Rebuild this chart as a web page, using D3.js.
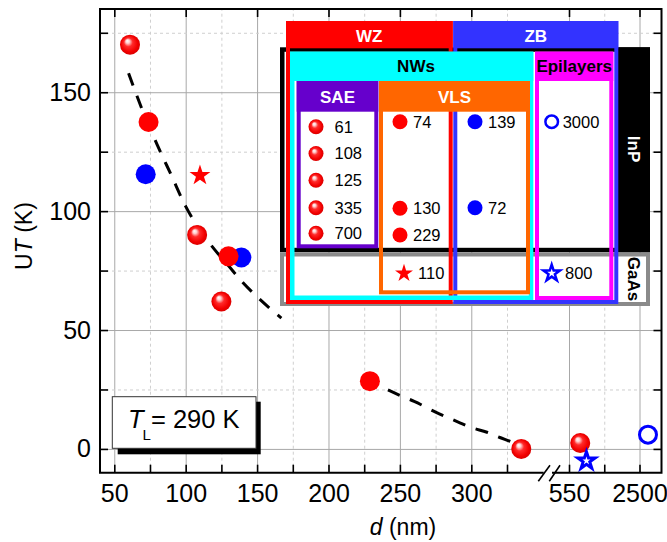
<!DOCTYPE html>
<html><head><meta charset="utf-8">
<script src="https://cdn.jsdelivr.net/npm/d3@7"></script>
<style>
body{margin:0;background:#fff}
svg{display:block;font-family:"Liberation Sans",Arial,sans-serif}
</style>
</head><body>
<svg id="c" width="667" height="542"></svg>
<script>
// ---------------- data ----------------
const saeD = [61, 108, 125, 335, 700];          // WZ InP NWs, SAE
const saeUT = [170, 90, 62, 0, 2.5];
const vlsWZD = [74, 130, 229];                   // WZ InP NWs, VLS
const vlsWZUT = [137.5, 81, 28.5];
const vlsZBD = [139, 72];                        // ZB InP NWs, VLS
const vlsZBUT = [80.5, 115.5];
const epiInPD = [3000];                          // ZB InP epilayer
const epiInPUT = [6];
const vlsGaAsD = [110];                          // WZ GaAs NW, VLS
const vlsGaAsUT = [115];
const epiGaAsD = [800];                          // ZB GaAs epilayer
const epiGaAsUT = [-5];
// dashed guide line (two visible pieces)
const fitD1 = [60, 70, 80, 90, 100, 110, 120, 130, 140, 150, 167];
const fitUT1 = [158, 142, 128, 115, 102, 92, 84, 77, 70, 64, 55];
const fitD2 = [229, 250, 260, 275, 292, 300, 311, 320, 329, 335];
const fitUT2 = [28.5, 22.5, 20, 15.5, 11, 9, 7, 4.8, 2.7, 1];
const xTicks1 = [50, 100, 150, 200, 250, 300];
const xMinor1 = [75, 125, 175, 225, 275, 325];
const xTicks2 = [550, 2500];
const yTicks = [0, 50, 100, 150];
const yMinor = [25, 75, 125, 175];

// ---------------- layout ----------------
const PL = 100, PR = 661.5, PT = 9, PB = 472.7, BRK1 = 542.7, BRK2 = 553;
const x1 = d3.scaleLinear().domain([40, 350]).range([PL, BRK1]);
const x2 = d3.scaleLog().domain([390, 4010]).range([BRK2, PR]);
const X = d => d <= 350 ? x1(d) : x2(d);
const y = d3.scaleLinear().domain([-10, 185]).range([PB, PT]);
const xMinor2 = [Math.sqrt(xTicks2[0] * xTicks2[1])];

const svg = d3.select("#c");
const defs = svg.append("defs");
const grad = defs.append("radialGradient").attr("id", "sph")
  .attr("cx", "50%").attr("cy", "50%").attr("r", "52%").attr("fx", "36%").attr("fy", "30%");
[[0, "#ffffff"], [0.18, "#ffd0d0"], [0.42, "#ff2a2a"], [0.78, "#f20000"], [1, "#d60000"]]
  .forEach(([o, c]) => grad.append("stop").attr("offset", o).attr("stop-color", c));

const zip = (a, b) => a.map((v, i) => [v, b[i]]);

// ---------------- grid ----------------
function vgrid(scale, vals, major) {
  svg.append("g").attr("transform", `translate(0,${PB})`)
    .call(d3.axisBottom(scale).tickValues(vals).tickSize(-(PB - PT)).tickFormat(""))
    .call(g => g.select(".domain").remove())
    .selectAll("line")
    .attr("stroke", major ? "#a8a8a8" : "#cfcfcf")
    .attr("stroke-width", 1)
    .attr("stroke-dasharray", major ? null : "3,3");
}
vgrid(x1, xTicks1, true); vgrid(x1, xMinor1, false);
vgrid(x2, xTicks2, true); vgrid(x2, xMinor2, false);
function hgrid(vals, major) {
  svg.append("g").attr("transform", `translate(${PL},0)`)
    .call(d3.axisLeft(y).tickValues(vals).tickSize(-(PR - PL)).tickFormat(""))
    .call(g => g.select(".domain").remove())
    .selectAll("line")
    .attr("stroke", major ? "#a8a8a8" : "#cfcfcf")
    .attr("stroke-width", 1)
    .attr("stroke-dasharray", major ? null : "3,3");
}
hgrid(yTicks, true); hgrid(yMinor, false);

// ---------------- fit line ----------------
const fitLine = d3.line().x(d => X(d[0])).y(d => y(d[1])).curve(d3.curveMonotoneX);
[[fitD1, fitUT1, 0], [fitD2, fitUT2, 4]].forEach(([D, U, off]) => {
  svg.append("path")
    .datum(zip(D, U))
    .attr("d", fitLine)
    .attr("fill", "none").attr("stroke", "#000").attr("stroke-width", 3)
    .attr("stroke-dasharray", "13,11").attr("stroke-dashoffset", off);
});

// ---------------- markers ----------------
const star = s => d3.symbol().type(d3.symbolStar).size(s)();
function circles(D, U, r, fill, stroke, sw) {
  svg.append("g").selectAll("circle").data(zip(D, U)).join("circle")
    .attr("cx", d => X(d[0])).attr("cy", d => y(d[1])).attr("r", r)
    .attr("fill", fill).attr("stroke", stroke || "none").attr("stroke-width", sw || 0);
}
circles(vlsZBD, vlsZBUT, 10, "#0000ff");
circles(vlsWZD, vlsWZUT, 10, "#ff0000");
circles(saeD, saeUT, 10, "url(#sph)");
circles(epiInPD, epiInPUT, 8.5, "none", "#0000ff", 3);
svg.append("g").selectAll("path").data(zip(vlsGaAsD, vlsGaAsUT)).join("path")
  .attr("transform", d => `translate(${X(d[0])},${y(d[1])})`)
  .attr("d", star(135)).attr("fill", "#ff0000");
svg.append("g").selectAll("path").data(zip(epiGaAsD, epiGaAsUT)).join("path")
  .attr("transform", d => `translate(${X(d[0])},${y(d[1])})`)
  .attr("d", star(95)).attr("fill", "none").attr("stroke", "#0000ff").attr("stroke-width", 3)
  .attr("stroke-linejoin", "miter");

// ---------------- axes ----------------
function styleAxis(g) {
  g.attr("font-size", null).attr("font-family", null);
  g.select(".domain").remove();
  g.selectAll(".tick line").attr("stroke", "#000").attr("stroke-width", 1.6);
  g.selectAll(".tick text").attr("fill", "#000").style("font-size", "25px");
}
svg.append("g").attr("transform", `translate(0,${PB})`)
  .call(d3.axisBottom(x1).tickValues(xTicks1).tickSize(-8).tickPadding(12).tickFormat(d3.format("d"))).call(styleAxis);
svg.append("g").attr("transform", `translate(0,${PB})`)
  .call(d3.axisBottom(x1).tickValues(xMinor1).tickSize(-8).tickFormat("")).call(styleAxis);
svg.append("g").attr("transform", `translate(0,${PB})`)
  .call(d3.axisBottom(x2).tickValues(xTicks2).tickSize(-8).tickPadding(12).tickFormat(d3.format("d"))).call(styleAxis);
svg.append("g").attr("transform", `translate(0,${PB})`)
  .call(d3.axisBottom(x2).tickValues(xMinor2).tickSize(-8).tickFormat("")).call(styleAxis);
svg.append("g").attr("transform", `translate(${PL},0)`)
  .call(d3.axisLeft(y).tickValues(yTicks).tickSize(-8).tickPadding(9)).call(styleAxis);
svg.append("g").attr("transform", `translate(${PL},0)`)
  .call(d3.axisLeft(y).tickValues(yMinor).tickSize(-8).tickFormat("")).call(styleAxis);
svg.append("g").attr("transform", `translate(${PR},0)`)
  .call(d3.axisRight(y).tickValues(yTicks.concat(yMinor)).tickSize(-8).tickFormat("")).call(styleAxis);
svg.append("g").attr("transform", `translate(0,${PT})`)
  .call(d3.axisTop(x1).tickValues(xTicks1).tickSize(-8).tickFormat("")).call(styleAxis);
svg.append("g").attr("transform", `translate(0,${PT})`)
  .call(d3.axisTop(x2).tickValues(xTicks2).tickSize(-8).tickFormat("")).call(styleAxis);

// frame with break on bottom axis
const frame = svg.append("g").attr("stroke", "#000").attr("stroke-width", 2).attr("fill", "none");
frame.append("path").attr("d", `M${BRK1},${PB}H${PL}V${PT}H${PR}V${PB}H${BRK2}`).attr("stroke-linecap", "square");
const brk = svg.append("g").attr("stroke", "#000").attr("stroke-width", 1.6);
brk.append("line").attr("x1", BRK1 - 4.4).attr("y1", PB + 8.5).attr("x2", BRK1 + 7.3).attr("y2", PB - 7.5);
brk.append("line").attr("x1", BRK1 + 6.6).attr("y1", PB + 8.5).attr("x2", BRK1 + 17.3).attr("y2", PB - 7.5);

// axis titles
const yt = svg.append("text").attr("transform", "translate(32,236) rotate(-90)")
  .attr("text-anchor", "middle").style("font-size", "23px");
yt.append("tspan").text("U");
yt.append("tspan").style("font-style", "italic").text("T");
yt.append("tspan").text(" (K)");
const xt = svg.append("text").attr("x", 403).attr("y", 535)
  .attr("text-anchor", "middle").style("font-size", "23px");
xt.append("tspan").style("font-style", "italic").text("d");
xt.append("tspan").text(" (nm)");

// T_L box
svg.append("rect").attr("x", 117.7).attr("y", 401.7).attr("width", 143).attr("height", 52.6).attr("fill", "#000");
svg.append("rect").attr("x", 112.3).attr("y", 396.7).attr("width", 143.7).attr("height", 51.6)
  .attr("fill", "#fff").attr("stroke", "#333").attr("stroke-width", 1);
const tl = svg.append("text").attr("x", 128).attr("y", 428.3).style("font-size", "25.5px");
tl.append("tspan").style("font-style", "italic").text("T");
tl.append("tspan").attr("dy", 11.7).attr("dx", -1).style("font-size", "15px").text("L");
tl.append("tspan").attr("dy", -11.7).attr("dx", 0).text("= 290 K");

// ---------------- legend ----------------
const lg = svg.append("g");
function frameRect(x0, y0, x1_, y1_, sw, color, fill) {
  lg.append("rect").attr("x", x0 + sw / 2).attr("y", y0 + sw / 2)
    .attr("width", x1_ - x0 - sw).attr("height", y1_ - y0 - sw)
    .attr("fill", fill || "none").attr("stroke", color).attr("stroke-width", sw);
}
function fillRect(x0, y0, x1_, y1_, color) {
  lg.append("rect").attr("x", x0).attr("y", y0).attr("width", x1_ - x0).attr("height", y1_ - y0).attr("fill", color);
}
function title(x, yy, t, color, rot) {
  const el = lg.append("text").attr("text-anchor", "middle").style("font-size", "17px")
    .style("font-weight", "bold").attr("fill", color).text(t);
  if (rot) el.attr("transform", `translate(${x},${yy}) rotate(90)`).attr("dy", "0.35em");
  else el.attr("x", x).attr("y", yy);
}
// InP (black) and GaAs (gray) rows
frameRect(280, 47.3, 650, 252.3, 4.5, "#000", "#fff");
fillRect(618, 47.3, 650, 252.3, "#000");
title(634, 149, "InP", "#fff", true);
frameRect(280, 252.5, 650, 306, 4, "#8a8a8a", "#fff");
title(634, 279, "GaAs", "#000", true);
// WZ / ZB
frameRect(286, 21, 452.7, 304, 4, "#ff0000");
fillRect(286, 21, 452.7, 48.3, "#ff0000");
title(369.3, 41.7, "WZ", "#fff");
frameRect(453.3, 21, 618.3, 304, 4, "#3333ff");
fillRect(453.3, 21, 618.3, 48.3, "#3333ff");
title(535.8, 41.7, "ZB", "#fff");
// NWs / Epilayers
frameRect(290, 51.7, 533.3, 300, 4.5, "#00ffff");
fillRect(290, 51.7, 533.3, 81, "#00ffff");
title(416, 72.3, "NWs", "#000");
frameRect(535, 51.7, 613.3, 300, 4, "#ff00ff");
fillRect(535, 51.7, 613.3, 81, "#ff00ff");
title(574.2, 72.3, "Epilayers", "#000");
// SAE / VLS
frameRect(296.7, 81, 378.3, 248.3, 4, "#6600cc");
fillRect(296.7, 81, 378.3, 111.7, "#6600cc");
title(337.5, 103.3, "SAE", "#fff");
frameRect(379, 81, 530, 294.3, 4, "#ff6600");
fillRect(379, 81, 530, 111.7, "#ff6600");
title(454.5, 103.3, "VLS", "#fff");

// legend entries
function entries(D, mx, lx, ys, draw) {
  D.forEach((d, i) => {
    draw(mx, ys[i]);
    lg.append("text").attr("x", lx).attr("y", ys[i] + 5.9).style("font-size", "16.5px").text(d);
  });
}
const ball = fill => (cx, cy) => lg.append("circle").attr("cx", cx).attr("cy", cy).attr("r", 7.5).attr("fill", fill);
entries(saeD, 316, 334.5, [126.7, 153.5, 180.3, 207.8, 233.3], ball("url(#sph)"));
entries(vlsWZD, 400, 413, [121.7, 208.3, 235], ball("#ff0000"));
entries(vlsZBD, 475, 488, [121.7, 207.7], ball("#0000ff"));
entries(epiInPD, 551.7, 562.7, [121.7], (cx, cy) => lg.append("circle").attr("cx", cx).attr("cy", cy)
  .attr("r", 6.3).attr("fill", "none").attr("stroke", "#0000ff").attr("stroke-width", 2.5));
entries(vlsGaAsD, 404, 418, [273.3], (cx, cy) => lg.append("path").attr("transform", `translate(${cx},${cy})`)
  .attr("d", star(100)).attr("fill", "#ff0000"));
entries(epiGaAsD, 551.7, 565, [273.3], (cx, cy) => lg.append("path").attr("transform", `translate(${cx},${cy})`)
  .attr("d", star(85)).attr("fill", "none").attr("stroke", "#0000ff").attr("stroke-width", 2.5));
</script>
</body></html>
